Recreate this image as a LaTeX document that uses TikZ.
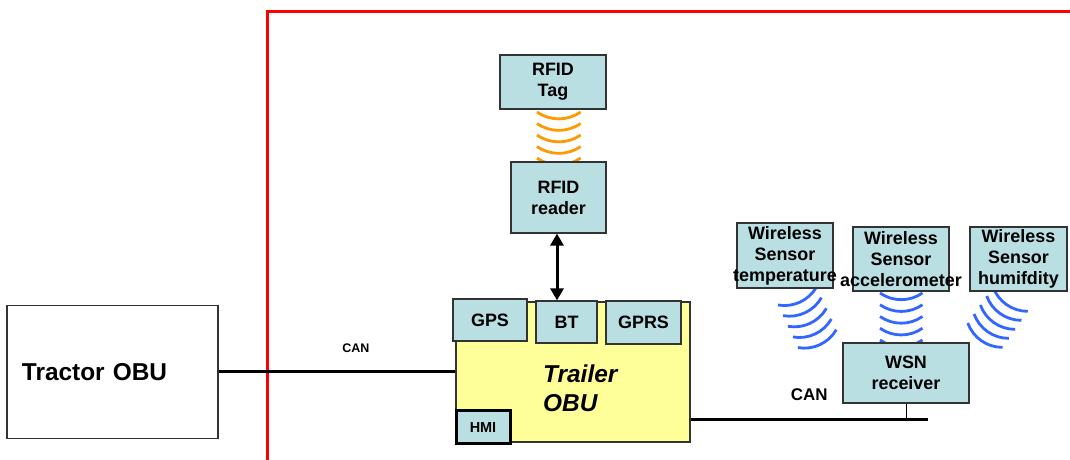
\documentclass[tikz,border=0pt]{standalone}
\usepackage{fontspec}
\setmainfont{Liberation Sans}
\usetikzlibrary{arrows.meta}
\definecolor{boxblue}{RGB}{185,223,226}
\definecolor{obuyellow}{RGB}{255,255,153}
\definecolor{waveorange}{RGB}{255,153,0}
\definecolor{waveblue}{RGB}{51,102,255}
\begin{document}
\begin{tikzpicture}[x=1bp,y=-1bp,
    unit/.style={draw=black!80,fill=boxblue,line width=1.2bp,inner sep=0pt,align=center,
      font=\fontsize{18}{21}\selectfont\bfseries},
    obu/.style={draw=black!80,line width=1.2bp,inner sep=0pt},
    bus/.style={line width=3bp},
    canlabel/.style={inner sep=0pt,font=\bfseries},
    rfwave/.style={line width=2.8bp,waveorange},
    wsnwave/.style={line width=2.8bp,waveblue}]
  \useasboundingbox (0,0) rectangle (1070,460);
  % trailer border
  \draw[red,line width=3bp] (1070,12) -| (267,460);
  % radio waves
  \begin{scope}[shift={(537,112)}]
    \draw[rfwave] (0,0) arc[start angle=125,end angle=55,radius=38];
    \draw[rfwave] (0,11.5) arc[start angle=125,end angle=55,radius=38];
    \draw[rfwave] (0,23) arc[start angle=125,end angle=55,radius=38];
    \draw[rfwave] (0,34.5) arc[start angle=125,end angle=55,radius=38];
    \draw[rfwave] (0,46) arc[start angle=125,end angle=55,radius=38];
  \end{scope}
  \begin{scope}[shift={(778,305)},rotate=25]
    \draw[wsnwave] (0,0) arc[start angle=125,end angle=55,radius=37];
    \draw[wsnwave] (0,11.75) arc[start angle=125,end angle=55,radius=37];
    \draw[wsnwave] (0,23.5) arc[start angle=125,end angle=55,radius=37];
    \draw[wsnwave] (0,35.25) arc[start angle=125,end angle=55,radius=37];
    \draw[wsnwave] (0,47) arc[start angle=125,end angle=55,radius=37];
  \end{scope}
  \begin{scope}[shift={(880,293)}]
    \draw[wsnwave] (0,0) arc[start angle=125,end angle=55,radius=37];
    \draw[wsnwave] (0,11.75) arc[start angle=125,end angle=55,radius=37];
    \draw[wsnwave] (0,23.5) arc[start angle=125,end angle=55,radius=37];
    \draw[wsnwave] (0,35.25) arc[start angle=125,end angle=55,radius=37];
    \draw[wsnwave] (0,47) arc[start angle=125,end angle=55,radius=37];
  \end{scope}
  \begin{scope}[shift={(993,287)},rotate=-35]
    \draw[wsnwave] (0,0) arc[start angle=125,end angle=55,radius=37];
    \draw[wsnwave] (0,11) arc[start angle=125,end angle=55,radius=37];
    \draw[wsnwave] (0,22) arc[start angle=125,end angle=55,radius=37];
    \draw[wsnwave] (0,33) arc[start angle=125,end angle=55,radius=37];
    \draw[wsnwave] (0,44) arc[start angle=125,end angle=55,radius=37];
  \end{scope}
  % units
  \node[obu,fill=white,minimum width=211bp,minimum height=133bp,text width=181bp,align=left,
    font=\fontsize{24.5}{28}\selectfont\bfseries] (tractor) at (112.5,372) {Tractor OBU};
  \node[obu,fill=obuyellow,minimum width=234bp,minimum height=140bp] (trailer) at (573,372) {};
  \node[anchor=west,inner sep=0pt,align=left,font=\fontsize{24.5}{29}\selectfont\bfseries\itshape]
    (trailerlabel) at (543,388) {Trailer\\OBU};
  \node[unit,minimum width=74bp,minimum height=42bp] (gps) at (490,320) {GPS};
  \node[unit,minimum width=61bp,minimum height=42bp] (bt) at (566.5,322) {BT};
  \node[unit,minimum width=75bp,minimum height=43bp] (gprs) at (643.5,322.5) {GPRS};
  \node[unit,line width=3bp,draw=black,minimum width=54bp,minimum height=33bp,
    font=\fontsize{14.5}{16}\selectfont\bfseries] (hmi) at (483,427.5) {HMI};
  \node[unit,minimum width=106bp,minimum height=54bp] (tag) at (553,82) {RFID\\Tag};
  \node[unit,minimum width=95bp,minimum height=71bp] (reader) at (558.5,197.5) {RFID\\reader};
  \node[unit,minimum width=126bp,minimum height=60bp] (wsn) at (906,373) {WSN\\receiver};
  \node[unit,minimum width=96bp,minimum height=65bp] (temp) at (785,255.5)
    {Wireless\\Sensor\\\makebox[0pt]{temperature}};
  \node[unit,minimum width=96bp,minimum height=64bp] (accel) at (901,259)
    {Wireless\\Sensor\\\makebox[0pt]{accelerometer}};
  \node[unit,minimum width=97bp,minimum height=64bp] (humid) at (1018.5,259)
    {Wireless\\Sensor\\humifdity};
  % links
  \coordinate (canend) at (928,420);
  \draw[bus] (tractor) -- node[canlabel,pos=0.58,above=18bp,font=\fontsize{12.5}{14}\selectfont\bfseries]
    (canleft) {CAN} (trailer);
  \draw[bus] (trailer.east |- canend) -- node[canlabel,midway,above=18bp,font=\fontsize{17}{19}\selectfont\bfseries]
    (canright) {CAN} (canend);
  \draw[line width=1bp] (wsn.south) -- (wsn.south |- canend);
  \draw[bus,{Triangle[length=12bp,width=13bp]}-{Triangle[length=12bp,width=13bp]}]
    ([xshift=-1.5bp]reader.south) -- ([xshift=-1.5bp]reader.south |- bt.north);
\end{tikzpicture}
\end{document}
